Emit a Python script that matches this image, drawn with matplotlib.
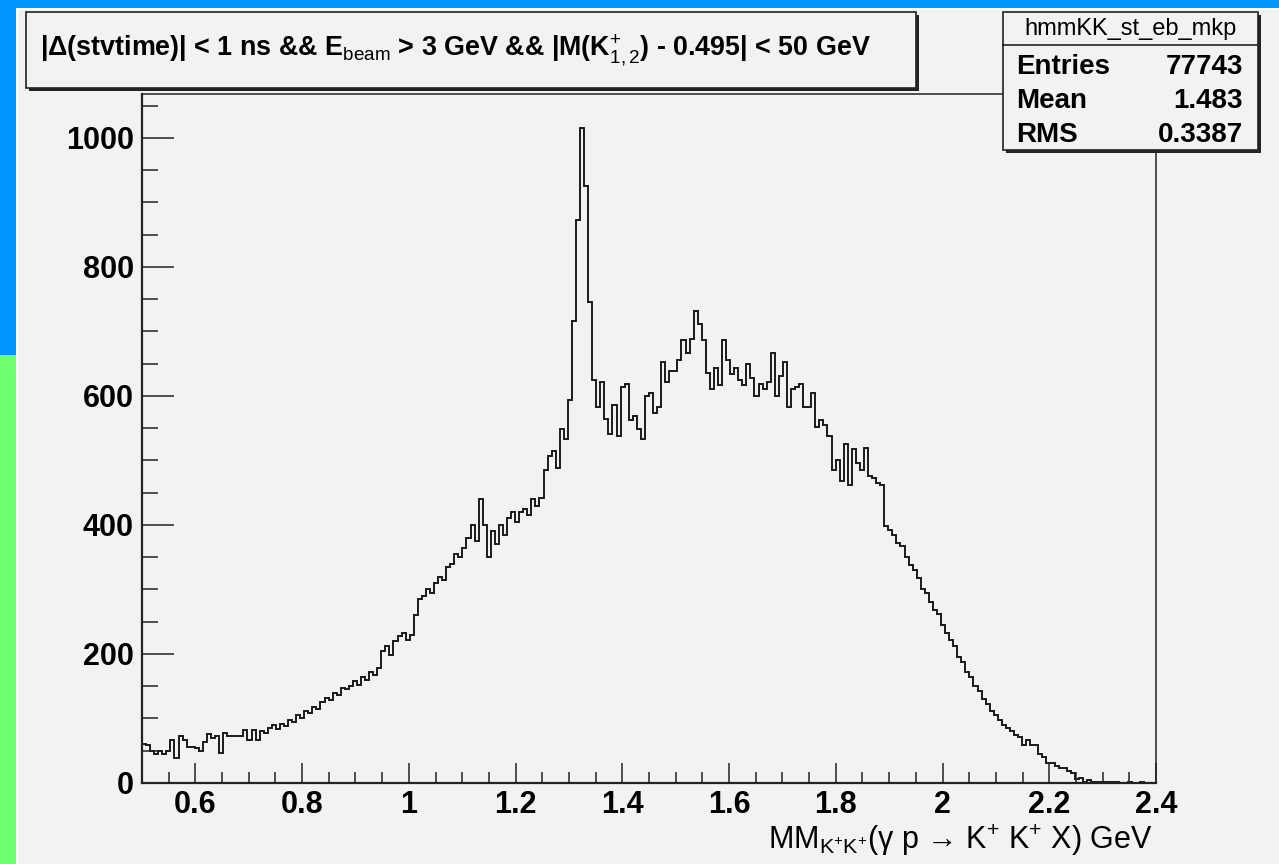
import numpy as np
import matplotlib.pyplot as plt
from matplotlib.patches import Rectangle
from matplotlib.lines import Line2D
from matplotlib.ticker import MultipleLocator

# missing-mass histogram, 250 bins from 0.5 to 2.4 GeV
x_lo, x_hi, n_bins = 0.5, 2.4, 250

counts_low = [61, 59, 50, 45, 50, 45, 50, 67, 38, 73, 66, 56, 56, 54, 50, 64, 76, 69, 73, 47,
              78, 73, 73, 73, 73, 82, 66, 82, 66, 80]
counts_rise = [78, 85, 90, 84, 92, 88, 98, 95, 105, 100, 112, 108, 118, 115, 125, 132, 128, 140,
               136, 148, 145, 150, 158, 152, 165, 160, 172, 168, 178, 205, 212, 198, 220, 228, 232, 222,
               230, 260, 285, 290, 300, 295, 310, 320, 315, 335, 340, 355, 350, 365, 380, 400, 375, 440,
               400, 350, 390, 370, 400, 385, 410, 420, 405, 420, 425, 415, 440, 430]
counts_peak = [441, 485, 507, 515, 488, 548, 534, 594, 716, 872, 1016, 926, 746, 625, 583, 622, 565,
               541, 586, 538, 614, 619, 562, 569, 548, 534, 600, 605, 574, 583, 653, 622, 639, 639, 656,
               687, 667, 689, 732, 712, 687, 636, 610, 644, 617, 687, 656, 634, 644, 625, 617, 650, 628,
               600, 619, 611, 622, 667, 600, 631, 653, 583, 611, 614, 619, 583, 583, 605, 552, 562, 555,
               538, 485, 501, 468, 526, 462, 518, 496, 485, 520, 476, 472, 465, 462]
counts_tail = [398, 392, 385, 372, 368, 350, 338, 330, 318, 300, 295, 280, 268, 262, 245, 232, 222,
               212, 196, 188, 172, 165, 150, 142, 130, 122, 112, 105, 98, 90, 85, 80,
               75, 72, 59, 67, 59, 59, 45, 41, 31, 31, 26, 23, 23, 19, 15, 6, 7, 2, 5, 2, 2, 1, 1, 2,
               2, 2, 0, 0, 2, 0, 0, 1, 0, 0, 0]

counts = np.array(counts_low + counts_rise + counts_peak + counts_tail)
edges = np.linspace(x_lo, x_hi, n_bins + 1)

stat_name = "hmmKK_st_eb_mkp"
stat_labels = ["Entries", "Mean", "RMS"]
stat_values = ["77743", "1.483", "0.3387"]

W, H = 1279, 864
plt.rcParams['font.family'] = ['Liberation Sans', 'DejaVu Sans']
plt.rcParams['mathtext.fontset'] = 'custom'
plt.rcParams['mathtext.rm'] = 'Liberation Sans'
plt.rcParams['mathtext.it'] = 'Liberation Sans:italic'
plt.rcParams['mathtext.bf'] = 'Liberation Sans:bold'

fig = plt.figure(figsize=(W / 100, H / 100), dpi=100)
fig.patch.set_facecolor('#f2f2f2')


def fx(x):
    return x / W


def fy(y):
    return 1 - y / H


def box(x0, y0, x1, y1, z=5):
    # pave with a dark drop shadow, like ROOT's TPaveText
    fig.add_artist(Rectangle((fx(x0 + 3), fy(y1 + 3)), fx(x1 - x0), (y1 - y0) / H,
                             transform=fig.transFigure, facecolor='#222222', edgecolor='none', zorder=z))
    fig.add_artist(Rectangle((fx(x0), fy(y1)), fx(x1 - x0), (y1 - y0) / H,
                             transform=fig.transFigure, facecolor='#f2f2f2', edgecolor='#222222',
                             lw=1.2, zorder=z + 0.1))


# slide border strips
fig.add_artist(Rectangle((0, fy(10)), 1, 10 / H, transform=fig.transFigure,
                         facecolor='white', edgecolor='none', zorder=0))
fig.add_artist(Rectangle((0, 0), fx(18), 1, transform=fig.transFigure,
                         facecolor='white', edgecolor='none', zorder=0))
fig.add_artist(Rectangle((0, fy(8)), 1, 8 / H, transform=fig.transFigure,
                         facecolor='#0096ff', edgecolor='none', zorder=1))
fig.add_artist(Rectangle((0, fy(355)), fx(16), 355 / H, transform=fig.transFigure,
                         facecolor='#0096ff', edgecolor='none', zorder=1))
fig.add_artist(Rectangle((0, 0), fx(16), fy(355), transform=fig.transFigure,
                         facecolor='#70ff70', edgecolor='none', zorder=1))

ax = fig.add_axes([fx(142), fy(783), fx(1156 - 142), (783 - 94) / H])
ax.set_facecolor('#f2f2f2')
ax.stairs(counts, edges, color='#1a1a1a', lw=1.4)
ax.set_xlim(x_lo, x_hi)
ax.set_ylim(0, 1068)

ax.xaxis.set_major_locator(MultipleLocator(0.2))
ax.xaxis.set_minor_locator(MultipleLocator(0.05))
ax.yaxis.set_major_locator(MultipleLocator(200))
ax.yaxis.set_minor_locator(MultipleLocator(50))
ax.xaxis.set_major_formatter(plt.FuncFormatter(lambda v, p: f"{v:g}"))

ax.tick_params(axis='both', which='both', direction='in', width=1.1, color='#222222',
               top=False, right=False)
ax.tick_params(axis='x', which='major', length=14.4, pad=5, labelsize=22)
ax.tick_params(axis='x', which='minor', length=7.9)
ax.tick_params(axis='y', which='major', length=23, pad=6, labelsize=22)
ax.tick_params(axis='y', which='minor', length=11.3)
for lab in ax.get_xticklabels() + ax.get_yticklabels():
    lab.set_fontweight('bold')

for side in ['left', 'bottom']:
    ax.spines[side].set_linewidth(1.6)
    ax.spines[side].set_color('#222222')
for side in ['top', 'right']:
    ax.spines[side].set_linewidth(1.1)
    ax.spines[side].set_color('#222222')

fig.text(fx(1153), fy(849),
         r'MM$_{\mathrm{K^{+}K^{+}}}$(γ p → K$^{+}$ K$^{+}$ X) GeV',
         ha='right', va='baseline', fontsize=22, fontweight='medium')

# cut description
box(26, 12, 916, 88)
fig.text(fx(455), fy(56),
         r'|Δ(stvtime)| < 1 ns && E$_{\mathrm{beam}}$ > 3 GeV && |M(K$^{+}_{\mathrm{1,2}}$) - 0.495| < 50 GeV',
         ha='center', va='baseline', fontsize=19.4, fontweight='bold', zorder=7)

# statistics box
box(1003, 12, 1258, 150)
fig.add_artist(Line2D([fx(1003), fx(1258)], [fy(45), fy(45)], transform=fig.transFigure,
                      color='#222222', lw=1.2, zorder=6))
fig.text(fx(1130), fy(29), stat_name, ha='center', va='center', fontsize=17, zorder=7)
for i, (lab, val) in enumerate(zip(stat_labels, stat_values)):
    yy = fy(74 + 34 * i)
    fig.text(fx(1016), yy, lab, ha='left', va='baseline', fontsize=20, fontweight='bold', zorder=7)
    fig.text(fx(1243), yy, val, ha='right', va='baseline', fontsize=20, fontweight='bold', zorder=7)

fig.savefig('out.png', dpi=100, facecolor=fig.get_facecolor())
